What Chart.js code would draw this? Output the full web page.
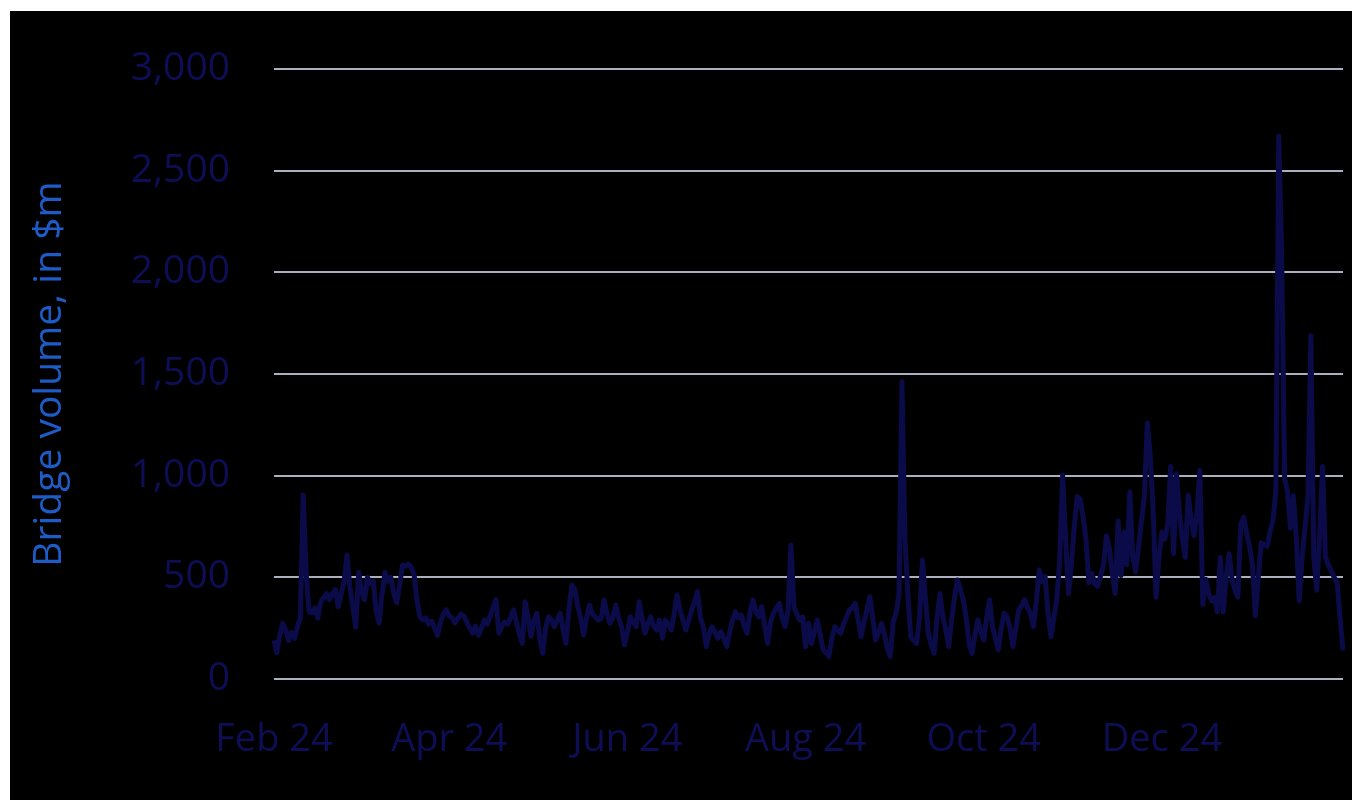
<!DOCTYPE html>
<html>
<head>
<meta charset="utf-8">
<script src="https://cdn.jsdelivr.net/npm/chart.js@4.4.1/dist/chart.umd.min.js"></script>
<style>
  html, body { margin: 0; padding: 0; background: #ffffff; }
  #wrap { position: absolute; left: 10px; top: 11px; width: 1342px; height: 789px; background: #000000; }
</style>
</head>
<body>
<div id="wrap"><canvas id="my_canvas"></canvas></div>
<script>
// daily bridge volume, $m, from 1 Feb 2024 to 1 Feb 2025
var startDate = '2024-02-01';
var volume = [
  190, 130, 220, 275, 240, 190, 230, 200, 255, 300,
  905, 520, 330, 325, 350, 300, 380, 400, 420, 390,
  420, 440, 355, 420, 480, 610, 450, 350, 255, 525,
  430, 390, 500, 470, 480, 330, 275, 420, 525, 480,
  500, 420, 375, 460, 560, 555, 565, 550, 510, 380,
  305, 290, 300, 270, 285, 250, 215, 280, 320, 340,
  310, 300, 275, 300, 320, 310, 280, 250, 225, 260,
  215, 250, 290, 270, 310, 350, 390, 225, 260, 280,
  270, 300, 340, 280, 220, 175, 380, 300, 210, 290,
  323, 200, 126, 250, 306, 290, 257, 290, 323, 240,
  175, 350, 462, 440, 356, 300, 216, 300, 364, 320,
  306, 290, 298, 389, 320, 274, 300, 364, 300, 257,
  167, 230, 306, 280, 257, 380, 300, 225, 270, 306,
  260, 241, 290, 200, 290, 270, 241, 320, 413, 340,
  290, 241, 290, 339, 380, 430, 300, 257, 159, 220,
  257, 230, 200, 233, 200, 159, 230, 290, 331, 300,
  315, 260, 225, 330, 389, 330, 306, 356, 260, 175,
  280, 323, 350, 372, 300, 257, 339, 659, 356, 320,
  290, 306, 159, 274, 175, 230, 290, 220, 143, 130,
  110, 200, 257, 240, 225, 270, 306, 340, 350, 372,
  290, 208, 280, 340, 405, 300, 192, 230, 274, 220,
  150, 110, 280, 323, 420, 1462, 700, 420, 208, 190,
  175, 300, 585, 400, 225, 170, 126, 300, 420, 306,
  240, 160, 290, 400, 487, 440, 390, 300, 170, 126,
  220, 290, 230, 192, 300, 390, 257, 200, 143, 250,
  323, 306, 250, 160, 250, 340, 360, 390, 350, 323,
  257, 380, 536, 480, 505, 320, 208, 300, 390, 585,
  1003, 700, 420, 560, 749, 897, 884, 800, 688, 473,
  520, 470, 455, 509, 560, 705, 640, 520, 420, 777,
  509, 723, 562, 920, 600, 527, 650, 777, 900, 1259,
  1100, 830, 402, 600, 723, 688, 760, 1045, 616, 1009,
  820, 688, 598, 902, 780, 705, 820, 1027, 366, 491,
  420, 384, 400, 330, 598, 330, 500, 616, 491, 440,
  402, 759, 795, 720, 652, 560, 312, 500, 670, 660,
  652, 723, 780, 920, 2670, 2100, 991, 920, 741, 902,
  700, 384, 598, 741, 900, 1688, 600, 437, 700, 1045,
  600, 560, 530, 500, 470, 300, 140
];
var tickDates = ['2024-02-01', '2024-04-01', '2024-06-01', '2024-08-01', '2024-10-01', '2024-12-01'];
var tickLabels = ['Feb 24', 'Apr 24', 'Jun 24', 'Aug 24', 'Oct 24', 'Dec 24'];
var yTicks = [0, 500, 1000, 1500, 2000, 2500, 3000];

var days = [];
var d0 = new Date(startDate + 'T00:00:00Z');
for (var i = 0; i < volume.length; i++) {
    var d = new Date(d0.getTime() + i * 86400000);
    days.push(d.toISOString().slice(0, 10));
}

var chartdata = {
    labels: days,
    datasets: [
        {
            label: 'Bridge volume',
            data: volume,
            borderColor: '#0b0b4a',
            backgroundColor: '#0b0b4a',
            borderWidth: 5,
            pointRadius: 0,
            borderJoinStyle: 'round',
            tension: 0
        }
    ]
};

var ctx = document.getElementById('my_canvas');

var lineGraph = new Chart(ctx, {
    type: 'line',
    data: chartdata,
    options: {
        responsive: true,
        maintainAspectRatio: false,
        animation: false,
        layout: { padding: { top: 58, right: 9, bottom: 0, left: 0 } },
        plugins: { legend: { display: false }, tooltip: { enabled: false } },
        scales: {
            x: {
                type: 'category',
                offset: false,
                grid: { display: false },
                border: { display: false },
                afterFit: function(axis) {
                    axis.height = 121;
                    axis.paddingLeft = 0;
                    axis.paddingRight = 0;
                },
                ticks: {
                    autoSkip: false,
                    maxRotation: 0,
                    minRotation: 0,
                    padding: 30,
                    color: '#0e0e57',
                    font: { family: 'Open Sans', size: 38 },
                    callback: function(val, idx) {
                        var k = tickDates.indexOf(days[idx]);
                        return k >= 0 ? tickLabels[k] : '';
                    }
                }
            },
            y: {
                min: 0,
                max: 3000,
                afterBuildTicks: function(axis) {
                    axis.ticks = yTicks.map(function(v) { return { value: v }; });
                },
                afterFit: function(axis) {
                    axis.width = 264;
                    axis.paddingTop = 0;
                    axis.paddingBottom = 0;
                },
                grid: { color: '#aab0bd', lineWidth: 2, drawTicks: false },
                border: { display: false },
                ticks: {
                    padding: 44,
                    color: '#0e0e57',
                    font: { family: 'Open Sans', size: 39 },
                    callback: function(v) { return v.toLocaleString('en-US'); }
                },
                title: {
                    display: true,
                    text: 'Bridge volume, in $m',
                    color: '#1d5bc6',
                    font: { family: 'Open Sans', size: 39 },
                    padding: { top: 16, bottom: 0 }
                }
            }
        }
    }
});
</script>
</body>
</html>
